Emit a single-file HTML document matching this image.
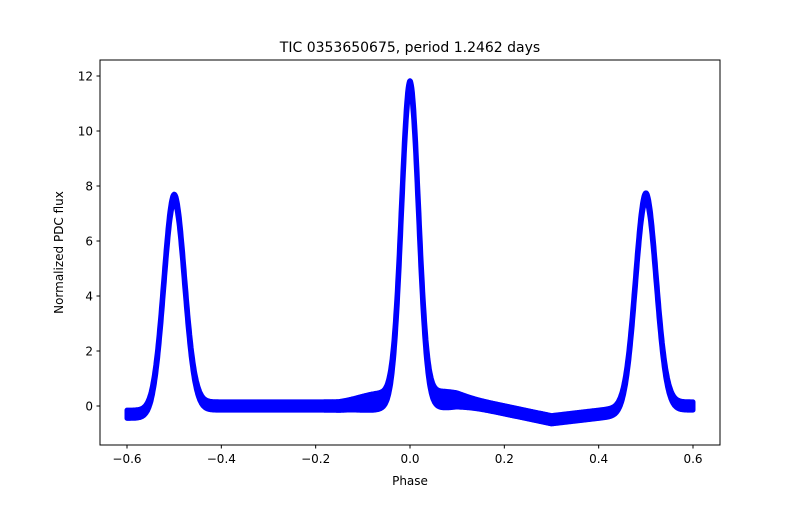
<!DOCTYPE html>
<html><head><meta charset="utf-8"><style>
html,body{margin:0;padding:0;background:#fff;}
svg text{font-family:"DejaVu Sans","Liberation Sans",sans-serif;font-size:12px;fill:#000;}
</style></head><body>
<svg id="s" width="800" height="500" xmlns="http://www.w3.org/2000/svg">
<rect width="800" height="500" fill="#fff"/>
<text x="410" y="52" text-anchor="middle" style="font-size:14px">TIC 0353650675, period 1.2462 days</text>
<g id="data"></g>
<rect x="100" y="60" width="620" height="385" fill="none" stroke="#000" stroke-width="1"/>
<g id="ticks"></g>
<text x="410" y="485" text-anchor="middle">Phase</text>
<text transform="translate(63,252.5) rotate(-90)" text-anchor="middle">Normalized PDC flux</text>
</svg>
<script>
var NS="http://www.w3.org/2000/svg";
function X(p){return 410+p*471.67;}
function Y(v){return 406-v*27.5;}
function g(x,c,a,s){return a*Math.exp(-(x-c)*(x-c)/(2*s*s));}
function base(x){
 if(x<-0.55) return -0.3;
 if(x<-0.45) return -0.3+(x+0.55)*3;
 if(x<-0.15) return 0;
 if(x<-0.02) return (x+0.15)*2.0;
 if(x<0.1) return 0.26-(x+0.02)*0.3;
 if(x<0.3) return 0.22-(x-0.1)*3.6;
 if(x<0.45) return -0.5+(x-0.3)*2;
 if(x<0.55) return -0.2+(x-0.45)*2;
 return 0;
}
function w(x){
 var ax=Math.abs(x);
 return 0.15+0.15*Math.exp(-Math.pow((ax-0.07)/0.05,2));
}
function f(x){return base(x)+g(x,0,11.4,0.018)+g(x,-0.5,7.7,0.022)+g(x,0.5,7.7,0.022);}
var up=[],lo=[];
for(var x=-0.6;x<=0.6001;x+=0.001){
 var v=f(x),ww=w(x);
 up.push(X(x).toFixed(1)+","+Y(v+ww).toFixed(1));
 lo.unshift(X(x).toFixed(1)+","+Y(v-ww).toFixed(1));
}
var p=document.createElementNS(NS,"polygon");
p.setAttribute("points",up.concat(lo).join(" "));
p.setAttribute("fill","#0000ff");p.setAttribute("stroke","#0000ff");
p.setAttribute("stroke-width","5");p.setAttribute("stroke-linejoin","round");
document.getElementById("data").appendChild(p);
var t=document.getElementById("ticks"),h="";
for(var i=-3;i<=3;i++){var xv=i*0.2,px=X(xv);
 h+='<line x1="'+px+'" y1="445" x2="'+px+'" y2="448.5" stroke="#000"/>';
 var lab=(i<0?"\u2212":"")+Math.abs(xv).toFixed(1);
 h+='<text x="'+px+'" y="463" text-anchor="middle">'+lab+'</text>';}
for(var k=0;k<=12;k+=2){var py=Y(k);
 h+='<line x1="96.5" y1="'+py+'" x2="100" y2="'+py+'" stroke="#000"/>';
 h+='<text x="93" y="'+(py+4.5)+'" text-anchor="end">'+k+'</text>';}
t.innerHTML=h;
</script>
</body></html>
